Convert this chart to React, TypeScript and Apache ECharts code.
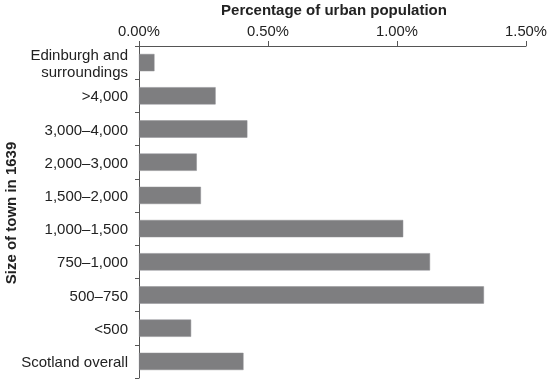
import React, { useEffect, useRef } from "react";
import * as echarts from "echarts";

const categories = [
  "Edinburgh and\nsurroundings",
  ">4,000",
  "3,000–4,000",
  "2,000–3,000",
  "1,500–2,000",
  "1,000–1,500",
  "750–1,000",
  "500–750",
  "<500",
  "Scotland overall",
];
const values = [0.06, 0.297, 0.42, 0.224, 0.24, 1.024, 1.128, 1.337, 0.202, 0.405];
const xTicks = { min: 0, max: 1.5, interval: 0.5 };
const xTitle = "Percentage of urban population";
const yTitle = "Size of town in 1639";

export default function App() {
  const ref = useRef<HTMLDivElement>(null);
  useEffect(() => {
    if (!ref.current) return;
    const chart = echarts.init(ref.current, null, { renderer: "svg" });
    const font = "Liberation Sans, Arial, Helvetica, sans-serif";
    chart.setOption({
      animation: false,
      textStyle: { fontFamily: font },
      grid: { left: 139, right: 21, top: 46, bottom: 2, containLabel: false },
      xAxis: {
        type: "value",
        position: "top",
        min: xTicks.min,
        max: xTicks.max,
        interval: xTicks.interval,
        axisLine: { show: true, lineStyle: { color: "#555", width: 1 } },
        axisTick: { show: true, length: 5, lineStyle: { color: "#555" } },
        axisLabel: {
          color: "#222",
          fontSize: 14.8,
          fontFamily: font,
          margin: 8,
          formatter: (v: number) => v.toFixed(2) + "%",
        },
        splitLine: { show: false },
      },
      yAxis: {
        type: "category",
        data: categories,
        inverse: true,
        axisLine: { show: true, lineStyle: { color: "#555", width: 1 } },
        axisTick: { show: true, length: 4, lineStyle: { color: "#555" } },
        axisLabel: {
          color: "#222",
          fontSize: 15,
          fontFamily: font,
          margin: 11,
          lineHeight: 17,
        },
      },
      series: [
        {
          type: "bar",
          data: values,
          barCategoryGap: "48%",
          itemStyle: { color: "#7e7e80", borderColor: "#8f8f92", borderWidth: 0.5 },
        },
      ],
      graphic: [
        {
          type: "text",
          x: 334,
          y: 9,
          style: {
            text: xTitle,
            fontSize: 15,
            fontWeight: "bold",
            fontFamily: font,
            fill: "#222",
            textAlign: "center",
            textVerticalAlign: "middle",
          },
        },
        {
          type: "text",
          x: 10,
          y: 213,
          rotation: Math.PI / 2,
          style: {
            text: yTitle,
            fontSize: 15,
            fontWeight: "bold",
            fontFamily: font,
            fill: "#222",
            textAlign: "center",
            textVerticalAlign: "middle",
          },
        },
      ],
    });
    return () => chart.dispose();
  }, []);
  return (
    <div
      ref={ref}
      style={{ position: "fixed", left: 0, top: 0, width: 550, height: 380 }}
    />
  );
}
